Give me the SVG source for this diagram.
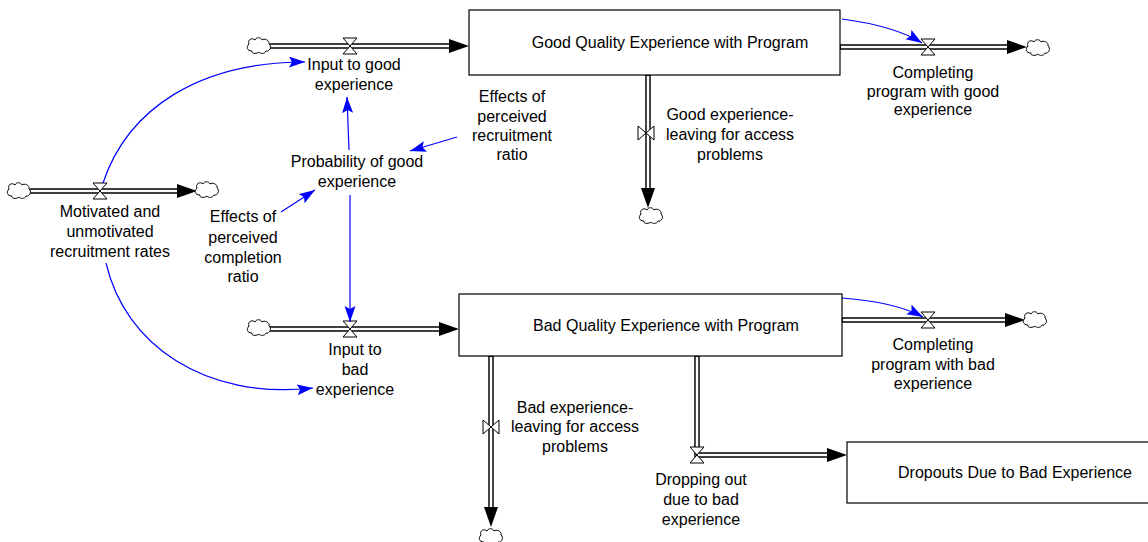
<svg xmlns="http://www.w3.org/2000/svg" width="1148" height="542" viewBox="0 0 1148 542">
<style>
text{font-family:"Liberation Sans",Arial,sans-serif;font-size:16px;fill:#000;text-anchor:middle}
.box{fill:#fff;stroke:#000;stroke-width:1.2}
.po{fill:none;stroke:#000;stroke-width:5.5}
.pi{fill:none;stroke:#fff;stroke-width:2.6}
.ah{fill:#000}
.cl{fill:#fff;stroke:#000;stroke-width:1}
.vl{fill:#fff;stroke:#000;stroke-width:1}
.info{fill:none;stroke:#0000ff;stroke-width:1.2;marker-end:url(#ba)}
</style>
<defs>
<marker id="ba" markerUnits="userSpaceOnUse" markerWidth="18" markerHeight="12" refX="16" refY="5.5" orient="auto">
<path d="M0,0 L16,5.5 L0,11 L3,5.5 Z" fill="#0000ff"/>
</marker>
<path id="cloud" d="M-10,-2 C-12,-6 -7,-9 -4,-6 C-3,-9 2,-9 3,-6 C5,-8 11,-6 10,-2 C13,0 11,6 7,5 C6,8 1,8 0,6 C-2,8 -8,8 -7,5 C-12,5 -13,1 -10,-2 Z"/>
<path id="vh" d="M-7,-8 L7,-8 L-7,8 L7,8 Z"/>
<path id="vv" d="M-8,-7 L-8,7 L8,-7 L8,7 Z"/>
</defs>

<g id="connectors">
<g id="pipes">
<path class="po" d="M270,46 H452"/><path class="pi" d="M268,46 H452"/>
<path class="po" d="M840,47 H1010"/><path class="pi" d="M841,47 H1010"/>
<path class="po" d="M30,191 H180"/><path class="pi" d="M28,191 H180"/>
<path class="po" d="M648,75 V191"/><path class="pi" d="M648,76 V191"/>
<path class="po" d="M270,329 H441"/><path class="pi" d="M268,329 H441"/>
<path class="po" d="M842,320 H1008"/><path class="pi" d="M843,320 H1008"/>
<path class="po" d="M491,356 V510"/><path class="pi" d="M491,357 V510"/>
<path class="po" d="M697,356 V455 H830"/><path class="pi" d="M697,357 V455 H830"/>
</g>
<g id="arrowheads">
<path class="ah" d="M469,46 L449,39 L449,53 Z"/>
<path class="ah" d="M1027,47 L1007,40 L1007,54 Z"/>
<path class="ah" d="M197,191 L177,184 L177,198 Z"/>
<path class="ah" d="M648,208 L641,188 L655,188 Z"/>
<path class="ah" d="M459,329 L439,322 L439,336 Z"/>
<path class="ah" d="M1025,320 L1005,313 L1005,327 Z"/>
<path class="ah" d="M491,527 L484,507 L498,507 Z"/>
<path class="ah" d="M847,455 L827,448 L827,462 Z"/>
</g>
<g id="valves">
<use href="#vh" class="vl" x="350" y="46"/>
<use href="#vh" class="vl" x="928" y="47"/>
<use href="#vh" class="vl" x="100" y="191"/>
<use href="#vv" class="vl" x="646" y="133"/>
<use href="#vh" class="vl" x="350" y="329"/>
<use href="#vh" class="vl" x="928" y="320"/>
<use href="#vv" class="vl" x="491" y="427"/>
<use href="#vh" class="vl" x="697" y="455"/>
</g>
<g id="clouds">
<use href="#cloud" class="cl" x="259" y="46"/>
<use href="#cloud" class="cl" x="1038" y="48"/>
<use href="#cloud" class="cl" x="19" y="191"/>
<use href="#cloud" class="cl" x="207" y="190"/>
<use href="#cloud" class="cl" x="651" y="216"/>
<use href="#cloud" class="cl" x="259" y="328"/>
<use href="#cloud" class="cl" x="1035" y="320"/>
<use href="#cloud" class="cl" x="491" y="537"/>
</g>
<g id="links">
<path class="info" d="M103,183 C128,108 200,62 305,62"/>
<path class="info" d="M106,263 C125,345 205,400 313,388"/>
<path class="info" d="M349,150 L347,97"/>
<path class="info" d="M457,137 L410,151"/>
<path class="info" d="M281,212 L315,190"/>
<path class="info" d="M350,195 L350,322"/>
<path class="info" d="M842,19 Q895,26 922,43"/>
<path class="info" d="M842,298 Q895,302 923,317"/>
</g>
</g>

<g id="good-stock"><rect class="box" x="469" y="10" width="371" height="65"/><text x="670" y="48">Good Quality Experience with Program</text></g>
<g id="bad-stock"><rect class="box" x="459" y="294" width="383" height="62"/><text x="666" y="331">Bad Quality Experience with Program</text></g>
<g id="dropouts-stock"><rect class="box" x="847" y="442" width="320" height="61"/><text x="1015" y="478">Dropouts Due to Bad Experience</text></g>

<g id="input-good"><text x="354" y="70">Input to good</text><text x="354" y="90">experience</text></g>
<g id="completing-good"><text x="933" y="78">Completing</text><text x="933" y="97">program with good</text><text x="933" y="115">experience</text></g>
<g id="recruitment"><text x="110" y="217">Motivated and</text><text x="110" y="237">unmotivated</text><text x="110" y="257">recruitment rates</text></g>
<g id="good-leaving"><text x="730" y="120">Good experience-</text><text x="730" y="140">leaving for access</text><text x="730" y="160">problems</text></g>
<g id="probability"><text x="357" y="167">Probability of good</text><text x="357" y="187">experience</text></g>
<g id="effects-recruitment"><text x="512" y="102">Effects of</text><text x="512" y="122">perceived</text><text x="512" y="141">recruitment</text><text x="512" y="160">ratio</text></g>
<g id="effects-completion"><text x="243" y="222">Effects of</text><text x="243" y="243">perceived</text><text x="243" y="263">completion</text><text x="243" y="282">ratio</text></g>
<g id="input-bad"><text x="355" y="355">Input to</text><text x="355" y="375">bad</text><text x="355" y="395">experience</text></g>
<g id="completing-bad"><text x="933" y="350">Completing</text><text x="933" y="370">program with bad</text><text x="933" y="389">experience</text></g>
<g id="bad-leaving"><text x="575" y="413">Bad experience-</text><text x="575" y="432">leaving for access</text><text x="575" y="452">problems</text></g>
<g id="dropping-out"><text x="701" y="485">Dropping out</text><text x="701" y="505">due to bad</text><text x="701" y="525">experience</text></g>
</svg>
